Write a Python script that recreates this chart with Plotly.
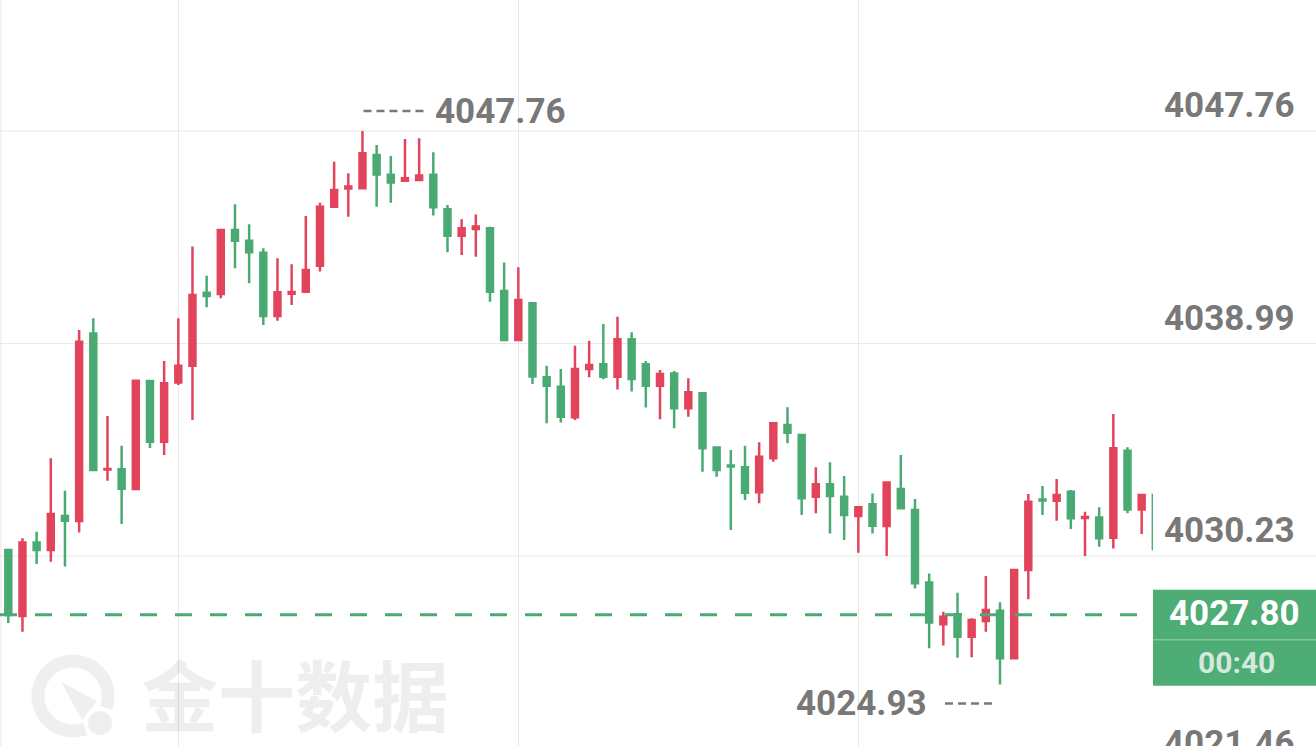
import math
import plotly.graph_objects as go

# ---------------- data ----------------
opens = [4030.47, 4027.75, 4030.78, 4030.47, 4031.88, 4031.67, 4039.41, 4033.80, 4033.81, 4032.99,
         4037.45, 4034.94, 4037.38, 4038.08, 4041.09, 4041.04, 4043.68, 4043.23, 4042.74, 4040.13,
         4041.05, 4041.13, 4042.20, 4044.64, 4045.39, 4045.40, 4046.77, 4045.95, 4045.71, 4045.74,
         4045.95, 4044.53, 4043.44, 4043.72, 4043.75, 4041.16, 4039.14, 4040.65, 4037.60, 4037.21,
         4035.95, 4037.94, 4038.14, 4037.62, 4039.17, 4038.14, 4037.25, 4037.76, 4036.32, 4036.94,
         4034.70, 4033.96, 4033.89, 4032.86, 4034.26, 4035.63, 4035.22, 4032.67, 4033.19, 4032.67,
         4031.88, 4032.36, 4031.46, 4032.99, 4032.12, 4029.13, 4027.41, 4027.82, 4026.90, 4027.55,
         4027.97, 4026.01, 4029.65, 4032.56, 4032.51, 4032.88, 4031.79, 4031.82, 4030.98, 4034.57,
         4032.15, 4032.74]
highs = [4030.50, 4030.96, 4031.23, 4034.26, 4032.92, 4039.55, 4040.03, 4036.00, 4034.78, 4037.46,
         4037.45, 4038.27, 4040.03, 4042.99, 4041.79, 4043.70, 4044.74, 4043.91, 4042.92, 4042.51,
         4042.26, 4044.25, 4044.80, 4046.49, 4046.02, 4047.76, 4047.18, 4046.73, 4047.43, 4047.46,
         4046.88, 4044.71, 4044.12, 4044.32, 4043.81, 4042.33, 4042.14, 4040.65, 4038.08, 4037.94,
         4038.90, 4039.11, 4039.80, 4040.10, 4039.46, 4038.27, 4037.90, 4037.86, 4037.56, 4036.96,
         4034.74, 4034.60, 4034.78, 4034.92, 4035.70, 4036.36, 4035.22, 4033.89, 4034.09, 4033.53,
         4032.26, 4032.81, 4033.29, 4034.39, 4032.58, 4029.51, 4027.93, 4028.71, 4027.66, 4029.40,
         4028.32, 4029.65, 4032.79, 4033.12, 4033.40, 4032.95, 4032.05, 4032.24, 4036.09, 4034.71,
         4032.74, 4032.79]
lows = [4027.46, 4027.10, 4029.90, 4029.99, 4029.79, 4031.20, 4033.73, 4033.33, 4031.55, 4032.99,
        4034.68, 4034.39, 4037.28, 4035.84, 4040.49, 4040.86, 4042.10, 4041.48, 4039.76, 4039.93,
        4040.58, 4041.09, 4041.96, 4044.61, 4044.22, 4045.37, 4044.64, 4044.80, 4045.71, 4045.70,
        4044.27, 4042.76, 4042.64, 4042.57, 4040.72, 4039.14, 4039.14, 4037.32, 4035.70, 4035.73,
        4035.84, 4037.60, 4037.52, 4037.10, 4037.01, 4036.35, 4035.87, 4035.50, 4035.97, 4033.70,
        4033.50, 4031.30, 4032.54, 4032.40, 4034.12, 4034.88, 4031.92, 4031.99, 4031.16, 4030.89,
        4030.36, 4031.16, 4030.23, 4032.20, 4028.89, 4026.42, 4026.53, 4026.03, 4026.05, 4027.10,
        4024.93, 4026.01, 4028.44, 4031.92, 4031.68, 4031.34, 4030.23, 4030.61, 4030.54, 4031.99,
        4031.13, 4030.52]
closes = [4027.79, 4030.78, 4030.47, 4031.96, 4031.68, 4039.07, 4033.78, 4033.82, 4033.00, 4037.46,
          4034.94, 4037.35, 4038.08, 4040.99, 4040.95, 4043.68, 4043.23, 4042.76, 4040.13, 4041.11,
          4041.12, 4042.03, 4044.64, 4045.33, 4045.47, 4046.84, 4045.97, 4045.64, 4045.81, 4045.92,
          4044.61, 4043.44, 4043.75, 4043.82, 4041.13, 4039.14, 4040.79, 4037.63, 4037.25, 4035.97,
          4037.94, 4038.11, 4037.62, 4039.17, 4037.53, 4037.25, 4037.74, 4036.32, 4036.98, 4034.67,
          4033.78, 4033.92, 4032.84, 4034.32, 4035.70, 4035.31, 4032.61, 4033.19, 4032.70, 4031.92,
          4032.24, 4031.48, 4033.26, 4032.20, 4029.10, 4027.48, 4027.72, 4026.90, 4027.59, 4028.00,
          4026.01, 4029.65, 4032.47, 4032.52, 4032.74, 4031.78, 4031.84, 4030.96, 4034.67, 4032.15,
          4032.74, 4030.52]
candle_index = list(range(len(opens)))

axis_levels = [4047.76, 4038.99, 4030.23, 4021.46]
axis_labels = ["4047.76", "4038.99", "4030.23", "4021.46"]
vgrid_at = [12, 36, 60]
last_price = 4027.80
last_price_label = "4027.80"
countdown_label = "00:40"
high_idx, high_label = 25, "4047.76"
low_idx, low_label = 70, "4024.93"
watermark_text = "金十数据"

# ---------------- styling / geometry ----------------
RED = "#E2445C"
GREEN = "#4AAA73"
BOX_GREEN = "#4DAD74"
GRID = "#E8E8E8"
LABEL = "#787878"
NUMFONT = "Roboto, DejaVu Sans Condensed, sans-serif"
NUMSIZE = 35

W, H = 1316, 746
PW = 1153                      # plot-area width in px (right part holds the price scale)
X_RANGE = [-0.586, 80.80]
Y_RANGE = [4022.389, 4053.164]


def py_val(v):   # value -> paper y
    return (v - Y_RANGE[0]) / (Y_RANGE[1] - Y_RANGE[0])


def px_x(p):     # pixel x -> paper x
    return p / PW


def px_y(p):     # pixel y -> paper y
    return 1 - p / H


fig = go.Figure()
fig.add_trace(go.Candlestick(
    x=candle_index, open=opens, high=highs, low=lows, close=closes,
    increasing=dict(line=dict(color=RED, width=2.5), fillcolor=RED),
    decreasing=dict(line=dict(color=GREEN, width=2.5), fillcolor=GREEN),
    whiskerwidth=0, hoverinfo="skip", showlegend=False,
))

shapes = []
# horizontal grid across the full width (incl. price scale area)
for v in axis_levels:
    yy = py_val(v)
    shapes.append(dict(type="line", xref="paper", yref="paper", x0=0, x1=W / PW, y0=yy, y1=yy,
                       line=dict(color=GRID, width=1), layer="below"))
# thin left border
shapes.append(dict(type="line", xref="paper", yref="paper", x0=px_x(1), x1=px_x(1), y0=0, y1=1,
                   line=dict(color=GRID, width=1), layer="below"))

# watermark logo ring (decorative)
cx, cy = 73, 696
r_out, r_in = 41.5, 28.5
a0, a1 = -20, 290
pts_out = [(cx + r_out * math.cos(math.radians(a)), cy - r_out * math.sin(math.radians(a)))
           for a in range(a0, a1 + 1, 5)]
pts_in = [(cx + r_in * math.cos(math.radians(a)), cy - r_in * math.sin(math.radians(a)))
          for a in range(a1, a0 - 1, -5)]
ring = pts_out + pts_in
path = "M " + " L ".join(f"{px_x(x):.5f},{px_y(y):.5f}" for x, y in ring) + " Z"
shapes.append(dict(type="path", xref="paper", yref="paper", path=path,
                   fillcolor="#EFEFEF", line=dict(width=0), layer="below"))
tri = [(61, 682), (97, 701), (82, 720)]
path = "M " + " L ".join(f"{px_x(x):.5f},{px_y(y):.5f}" for x, y in tri) + " Z"
shapes.append(dict(type="path", xref="paper", yref="paper", path=path,
                   fillcolor="#EFEFEF", line=dict(width=0), layer="below"))
shapes.append(dict(type="circle", xref="paper", yref="paper",
                   x0=px_x(88), x1=px_x(112), y0=px_y(735), y1=px_y(711),
                   fillcolor="#EFEFEF", line=dict(width=0), layer="below"))

# last price dashed line
lp = py_val(last_price)
shapes.append(dict(type="line", xref="paper", yref="paper", x0=0, x1=1, y0=lp, y1=lp,
                   line=dict(color=GREEN, width=3, dash="17px,18px"), layer="above"))
# price box
lp_px = H * (1 - lp)
shapes.append(dict(type="rect", xref="paper", yref="paper", x0=1, x1=W / PW,
                   y0=px_y(lp_px + 71), y1=px_y(lp_px - 25),
                   fillcolor=BOX_GREEN, line=dict(width=0), layer="above"))
shapes.append(dict(type="line", xref="paper", yref="paper", x0=1, x1=W / PW,
                   y0=px_y(lp_px + 25), y1=px_y(lp_px + 25),
                   line=dict(color="rgba(255,255,255,0.45)", width=1), layer="above"))

# dashed leaders for high / low labels
shapes.append(dict(type="line", xref="x", yref="y", xsizemode="pixel", ysizemode="pixel",
                   xanchor=high_idx, yanchor=highs[high_idx], x0=1, x1=66, y0=20, y1=20,
                   line=dict(color=LABEL, width=2.5, dash="8px,5px")))
shapes.append(dict(type="line", xref="x", yref="y", xsizemode="pixel", ysizemode="pixel",
                   xanchor=low_idx, yanchor=lows[low_idx], x0=-55, x1=-5, y0=-19, y1=-19,
                   line=dict(color=LABEL, width=2.5, dash="8px,5px")))

numfont = dict(family=NUMFONT, size=NUMSIZE, color=LABEL, weight=700)
annotations = []
for v, t in zip(axis_levels, axis_labels):
    annotations.append(dict(xref="paper", yref="paper", x=px_x(1297), y=py_val(v), yshift=25,
                            xanchor="right", yanchor="middle", text=t, showarrow=False,
                            font=numfont))
annotations.append(dict(xref="paper", yref="paper", x=px_x(1234.5), y=lp, yshift=1,
                        xanchor="center", yanchor="middle", text=last_price_label, showarrow=False,
                        font=dict(family=NUMFONT, size=NUMSIZE, color="white", weight=700)))
annotations.append(dict(xref="paper", yref="paper", x=px_x(1236), y=lp, yshift=-48,
                        xanchor="center", yanchor="middle", text=countdown_label, showarrow=False,
                        font=dict(family=NUMFONT, size=30, color="rgba(255,255,255,0.75)", weight=700)))
annotations.append(dict(xref="x", yref="y", x=high_idx, y=highs[high_idx], xshift=71, yshift=20,
                        xanchor="left", yanchor="middle", text=high_label, showarrow=False,
                        font=numfont))
annotations.append(dict(xref="x", yref="y", x=low_idx, y=lows[low_idx], xshift=-71, yshift=-19,
                        xanchor="right", yanchor="middle", text=low_label, showarrow=False,
                        font=numfont))
annotations.append(dict(xref="paper", yref="paper", x=px_x(139), y=px_y(692),
                        xanchor="left", yanchor="middle", text=watermark_text, showarrow=False,
                        font=dict(family="Noto Sans CJK SC", size=77, color="rgba(0,0,0,0.065)",
                                  weight="bold")))

fig.update_layout(
    width=W, height=H,
    margin=dict(l=0, r=W - PW, t=0, b=0),
    paper_bgcolor="white", plot_bgcolor="white",
    showlegend=False, hovermode=False,
    boxgap=0.4,
    xaxis=dict(range=X_RANGE, tickvals=vgrid_at, showticklabels=False, ticks="",
               showgrid=True, gridcolor=GRID, gridwidth=1, zeroline=False,
               rangeslider=dict(visible=False), fixedrange=True, showline=False),
    yaxis=dict(range=Y_RANGE, showticklabels=False, ticks="", showgrid=False,
               zeroline=False, fixedrange=True, showline=False),
    shapes=shapes, annotations=annotations,
)

fig.write_html("out.html", config={"displayModeBar": False},
               post_script="document.body.style.margin='0';document.body.style.overflow='hidden';")
